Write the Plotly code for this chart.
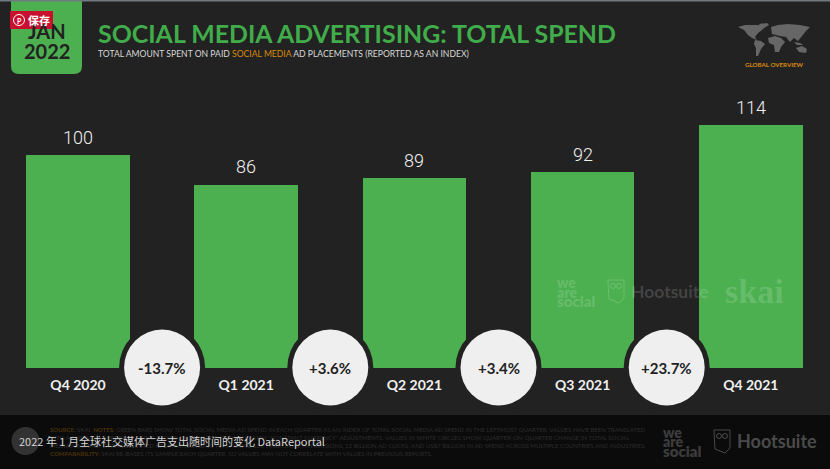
import plotly.graph_objects as go

W = 830
H = 469
BASE_Y = 367.5
UNIT = 2.125

# data
quarters = ["Q4 2020", "Q1 2021", "Q2 2021", "Q3 2021", "Q4 2021"]
index_values = [100, 86, 89, 92, 114]
changes = ["-13.7%", "+3.6%", "+3.4%", "+23.7%"]

title_text = "SOCIAL MEDIA ADVERTISING: TOTAL SPEND"
subtitle_text = ('TOTAL AMOUNT SPENT ON PAID <span style="color:#d98a0b">SOCIAL MEDIA</span> '
                 "AD PLACEMENTS (REPORTED AS AN INDEX)")
caption_text = "2022 年 1 月全球社交媒体广告支出随时间的变化 DataReportal"
notes_lines = [
    '<span style="color:#4a3208"><b>SOURCE:</b></span> SKAI. <span style="color:#4a3208"><b>NOTES:</b></span> GREEN BARS SHOW TOTAL SOCIAL MEDIA AD SPEND IN EACH QUARTER AS AN INDEX OF TOTAL SOCIAL MEDIA AD SPEND IN THE LEFTMOST QUARTER. VALUES HAVE BEEN TRANSLATED',
    'INTO A COMMON CURRENCY USING A FIXED EXCHANGE RATE IN ALL, WITH "CONSTANT CURRENCY" ADJUSTMENTS. VALUES IN WHITE CIRCLES SHOW QUARTER-ON-QUARTER CHANGE IN TOTAL SOCIAL',
    "MEDIA AD SPEND. DATA COLLECTED FROM ADVERTISING PLATFORMS, 620 TRILLION AD IMPRESSIONS, 12 BILLION AD CLICKS, AND US$7 BILLION IN AD SPEND ACROSS MULTIPLE COUNTRIES AND INDUSTRIES.",
    '<span style="color:#4a3208"><b>COMPARABILITY:</b></span> SKAI RE-BASES ITS SAMPLE EACH QUARTER, SO VALUES MAY NOT CORRELATE WITH VALUES IN PREVIOUS REPORTS.',
]

BG = "#222222"
FOOT = "#0b0b0b"
GREEN = "#4cb050"
TITLE_GREEN = "#41ad4a"
SANS = "Lato, 'Noto Sans', sans-serif"
CJK = "'Noto Sans CJK SC', sans-serif"
MARK = "rgba(255,255,255,0.16)"

# rough continents for the little map, in screen pixels
continents = [
    [(738, 27), (745, 25), (757, 25), (766, 26), (762, 30), (758, 33), (755, 37), (757, 40), (752, 38), (748, 35), (744, 30)],
    [(759, 24), (767, 23), (769, 25), (764, 28), (760, 27)],
    [(755, 40), (761, 41), (765, 44), (761, 49), (758, 56), (756, 56), (756, 48), (754, 44)],
    [(771, 27), (778, 25), (788, 24), (800, 25), (810, 27), (806, 31), (802, 36), (798, 41), (794, 38), (790, 42), (786, 37), (780, 36), (772, 34)],
    [(768, 38), (775, 36), (781, 38), (785, 42), (781, 47), (779, 52), (775, 52), (774, 45), (769, 43)],
    [(796, 48), (802, 46), (807, 49), (806, 53), (799, 52)],
    [(794, 42), (800, 43), (803, 45), (797, 45)],
]


def px_x(x):
    return x / W


def px_y(y):
    return 1 - y / H


def pixel_rect(x0, y0, x1, y1, color, layer="below"):
    return dict(type="rect", xref="paper", yref="paper", x0=px_x(x0), x1=px_x(x1),
                y0=px_y(y0), y1=px_y(y1), fillcolor=color, line_width=0, layer=layer)


def pixel_circle(cx, cy, r, color, line=None, layer="above"):
    return dict(type="circle", xref="paper", yref="paper", x0=px_x(cx - r), x1=px_x(cx + r),
                y0=px_y(cy - r), y1=px_y(cy + r), fillcolor=color,
                line=dict(color=line, width=1) if line else dict(width=0), layer=layer)


def pixel_path(points, color, line=None):
    d = "M " + " L ".join(f"{px_x(x):.4f},{px_y(y):.4f}" for x, y in points) + " Z"
    return dict(type="path", xref="paper", yref="paper", path=d, fillcolor=color,
                line=dict(color=line, width=1) if line else dict(width=0), layer="above")


def label(x, y, text, size, color, family=SANS, anchor="left", weight=None):
    font = dict(size=size, color=color, family=family)
    if weight:
        font["weight"] = weight
    return dict(xref="paper", yref="paper", x=px_x(x), y=px_y(y), text=text, showarrow=False,
                xanchor=anchor, yanchor="middle", font=font, align=anchor)


fig = go.Figure(go.Bar(x=list(range(len(quarters))), y=index_values, width=0.617,
                       marker=dict(color=GREEN, line_width=0), hoverinfo="skip"))

shapes = [
    pixel_rect(0, 415, W, H, FOOT),
    pixel_rect(0, 0, W, 1.5, "#6f7a80", "above"),
    # JAN 2022 tab, rounded at the bottom only
    dict(type="path", xref="paper", yref="paper", fillcolor=GREEN, line_width=0, layer="below",
         path=f"M {px_x(11)},1 L {px_x(82)},1 L {px_x(82)},{px_y(66)} "
              f"Q {px_x(82)},{px_y(74)} {px_x(74)},{px_y(74)} L {px_x(19)},{px_y(74)} "
              f"Q {px_x(11)},{px_y(74)} {px_x(11)},{px_y(66)} Z"),
]

# rings and white circles sit between the bars on the baseline
for i in range(len(changes)):
    for r, color in ((43, BG), (38, "#efefef")):
        shapes.append(dict(type="circle", xref="x", yref="y", xsizemode="pixel", ysizemode="pixel",
                           xanchor=i + 0.5, yanchor=0, x0=-r, x1=r, y0=-r, y1=r,
                           fillcolor=color, line_width=0, layer="above"))

for poly in continents:
    shapes.append(pixel_path(poly, "#666666"))

# pinterest save button over the tab
shapes.append(pixel_rect(10, 11, 53, 29, "#c80f2e", "above"))
shapes.append(pixel_circle(19, 20, 5.5, "#c80f2e", "#ffffff"))
shapes.append(pixel_circle(25.5, 441, 14, "rgba(255,255,255,0.16)"))

# hootsuite owls
for ox, oy, color in ((608, 280, "rgba(255,255,255,0.18)"), (714, 430, "rgba(255,255,255,0.25)")):
    shapes.append(pixel_path([(ox + a, oy + b) for a, b in [(0, 0), (16, 0), (16, 18), (11, 23), (1, 19)]],
                             "rgba(0,0,0,0)", color))
    shapes.append(pixel_circle(ox + 5, oy + 6, 2.5, "rgba(0,0,0,0)", color))
    shapes.append(pixel_circle(ox + 11, oy + 6, 2.5, "rgba(0,0,0,0)", color))

annotations = [
    label(46.5, 31, "JAN", 20, "#222222", anchor="center", weight=700),
    label(46.5, 50.5, "2022", 20, "#222222", anchor="center", weight=700),
    label(96, 33, title_text, 24.9, TITLE_GREEN, weight=700),
    label(96, 54, subtitle_text, 8.6, "#d8d8d8"),
    label(19, 20.5, "P", 7, "#ffffff", anchor="center", weight=700),
    label(39, 20, "保存", 11, "#ffffff", family=CJK, anchor="center", weight=700),
    label(774, 64.5, "GLOBAL OVERVIEW", 6.2, "#d98a0b", anchor="center", weight=700),
    # watermarks on the chart
    label(555, 282, "we", 14, MARK, weight=800),
    label(555, 292, "are", 14, MARK, weight=800),
    label(555, 301, "social", 15, MARK, weight=800),
    label(629, 291, "Hootsuite", 17.5, MARK, weight=700),
    label(723, 291, "skai", 34, MARK, family="'Liberation Serif', serif", weight=700),
    # footer logos
    label(661, 432, "we", 14, "#3c3c3c", weight=800),
    label(661, 441, "are", 14, "#3c3c3c", weight=800),
    label(661, 451, "social", 15, "#3c3c3c", weight=800),
    label(735, 441, "Hootsuite", 18, "#4a4a4a", weight=700),
]

for n, line in enumerate(notes_lines):
    annotations.append(label(48, 429 + 8 * n, line, 6.05, "#2c2c2c"))
annotations.append(label(17, 441, caption_text, 11, "#d6d6d6", family=CJK))

# value labels sit above each bar
for i, v in enumerate(index_values):
    annotations.append(dict(x=i, y=v, xref="x", yref="y", text=str(v), showarrow=False, yshift=18,
                            font=dict(size=18, color="#f0f0f0", family="Roboto, sans-serif", weight=300)))

for i, c in enumerate(changes):
    annotations.append(dict(x=i + 0.5, y=0, xref="x", yref="y", text=c, showarrow=False,
                            font=dict(size=15, color="#222222", family=SANS, weight=700)))

fig.update_layout(
    width=W, height=H, margin=dict(l=0, r=0, t=0, b=0),
    paper_bgcolor=BG, plot_bgcolor="rgba(0,0,0,0)", showlegend=False,
    bargap=0, shapes=shapes, annotations=annotations,
)
# x axis floats at the baseline so the circles can hang below it
fig.update_xaxes(range=[-78 / 168.2, (830 - 78) / 168.2], tickmode="array",
                 tickvals=list(range(len(quarters))), ticktext=quarters, showgrid=False, zeroline=False,
                 showline=False, ticks="outside", ticklen=5, tickcolor="rgba(0,0,0,0)",
                 tickfont=dict(size=14, color="#f0f0f0", family=SANS, weight=700),
                 anchor="free", position=1 - BASE_Y / H)
fig.update_yaxes(domain=[0, 1], range=[-(H - BASE_Y) / UNIT, BASE_Y / UNIT], visible=False)

fig.write_html("out.html", config={"displayModeBar": False},
               post_script="document.body.style.margin='0';document.body.style.background='#222222';")
